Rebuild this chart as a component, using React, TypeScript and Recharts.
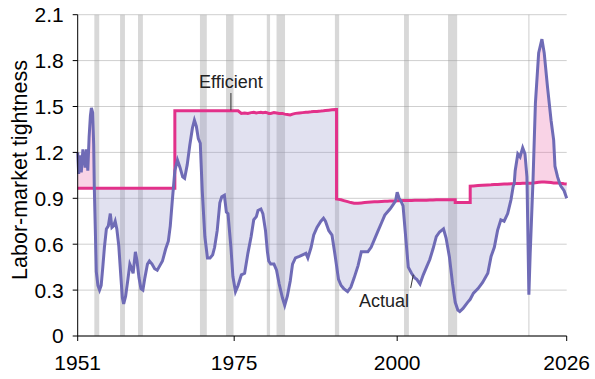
import React from 'react';
import {
  ComposedChart,
  Area,
  Line,
  XAxis,
  YAxis,
  CartesianGrid,
  ReferenceArea,
  ReferenceLine,
  ReferenceDot,
  Label,
} from 'recharts';

// jump years appear twice (step in the efficient line)
const years = [
  1951.0, 1951.15, 1951.35, 1951.55, 1951.8, 1952.0, 1952.15, 1952.35, 1952.55, 1952.75,
  1952.95, 1953.1, 1953.3, 1953.45, 1953.55, 1953.7, 1953.85, 1954.1, 1954.35, 1954.6,
  1954.85, 1955.1, 1955.4, 1955.7, 1956.0, 1956.25, 1956.5, 1956.75, 1957.0, 1957.3,
  1957.6, 1957.85, 1958.05, 1958.35, 1958.7, 1959.0, 1959.2, 1959.5, 1959.85, 1960.1,
  1960.4, 1960.7, 1961.0, 1961.3, 1961.7, 1962.0, 1962.4, 1962.8, 1963.2, 1963.6,
  1964.0, 1964.5, 1964.9, 1965.2, 1965.5, 1965.9, 1965.9, 1966.3, 1966.7, 1967.1,
  1967.4, 1967.8, 1968.2, 1968.6, 1968.9, 1969.2, 1969.5, 1969.8, 1970.1, 1970.5,
  1970.9, 1971.3, 1971.7, 1972.0, 1972.4, 1972.8, 1973.1, 1973.5, 1973.8, 1974.05,
  1974.5, 1974.8, 1975.2, 1975.6, 1976.1, 1976.6, 1977.1, 1977.6, 1978.0, 1978.4,
  1978.65, 1979.1, 1979.4, 1979.8, 1980.1, 1980.3, 1980.6, 1981.1, 1981.5, 1981.9,
  1982.4, 1982.75, 1983.15, 1983.6, 1983.95, 1984.4, 1985.0, 1985.5, 1986.0, 1986.3,
  1986.8, 1987.2, 1987.7, 1988.3, 1988.7, 1989.0, 1989.5, 1990.0, 1990.5, 1990.7,
  1990.7, 1991.0, 1991.4, 1991.8, 1992.4, 1992.9, 1993.4, 1994.0, 1994.5, 1995.0,
  1995.5, 1996.0, 1996.5, 1997.0, 1997.6, 1998.1, 1998.5, 1998.9, 1999.4, 1999.75,
  2000.0, 2000.3, 2000.55, 2000.9, 2001.3, 2001.7, 2002.2, 2002.7, 2003.0, 2003.5,
  2004.0, 2004.5, 2005.0, 2005.5, 2006.0, 2006.5, 2007.1, 2007.5, 2008.0, 2008.5,
  2008.9, 2008.9, 2009.3, 2009.6, 2010.1, 2010.8, 2011.2, 2011.2, 2011.7, 2012.4,
  2013.1, 2013.9, 2014.4, 2014.9, 2015.4, 2015.9, 2016.4, 2016.95, 2017.45, 2017.8,
  2017.95, 2018.1, 2018.5, 2018.85, 2019.25, 2019.6, 2019.9, 2019.92, 2020.2, 2020.4,
  2020.8, 2020.82, 2021.2, 2021.7, 2022.2, 2022.55, 2023.05, 2023.6, 2024.0, 2024.2,
  2024.6, 2024.9, 2025.1, 2025.6, 2026.0,
];

const actual = [
  1.2, 1.06, 1.18, 1.07, 1.22, 1.16, 1.1, 1.22, 1.08, 1.3,
  1.44, 1.49, 1.46, 1.25, 0.965, 0.7, 0.42, 0.33, 0.3, 0.33,
  0.45, 0.58, 0.7, 0.72, 0.8, 0.71, 0.72, 0.75, 0.7, 0.59,
  0.4, 0.25, 0.21, 0.26, 0.37, 0.47, 0.45, 0.41, 0.55, 0.49,
  0.38, 0.31, 0.3, 0.38, 0.47, 0.49, 0.47, 0.44, 0.43, 0.46,
  0.49, 0.57, 0.62, 0.72, 0.88, 1.08, 1.08, 1.15, 1.1, 1.04,
  1.03, 1.12, 1.25, 1.36, 1.41, 1.37, 1.29, 1.26, 0.95, 0.65,
  0.51, 0.51, 0.53, 0.58, 0.69, 0.87, 0.91, 0.92, 0.81, 0.8,
  0.58, 0.39, 0.29, 0.33, 0.4, 0.41, 0.54, 0.65, 0.76, 0.78,
  0.82, 0.83, 0.8, 0.69, 0.55, 0.49, 0.47, 0.47, 0.43, 0.34,
  0.25, 0.2, 0.26, 0.36, 0.47, 0.51, 0.52, 0.53, 0.54, 0.51,
  0.58, 0.66, 0.71, 0.75, 0.77, 0.75, 0.69, 0.66, 0.52, 0.46,
  0.46, 0.37, 0.33, 0.31, 0.29, 0.32, 0.38, 0.46, 0.55, 0.55,
  0.55, 0.58, 0.63, 0.68, 0.74, 0.79, 0.81, 0.83, 0.86, 0.883,
  0.94, 0.9, 0.884, 0.85, 0.65, 0.45, 0.41, 0.38, 0.37, 0.34,
  0.4, 0.45, 0.5, 0.57, 0.65, 0.68, 0.7, 0.64, 0.52, 0.34,
  0.22, 0.22, 0.17, 0.16, 0.18, 0.22, 0.24, 0.24, 0.28, 0.31,
  0.35, 0.41, 0.52, 0.58, 0.69, 0.76, 0.75, 0.8, 0.89, 0.98,
  0.995, 1.08, 1.19, 1.17, 1.23, 1.19, 1.04, 0.998, 0.27, 0.54,
  0.98, 1.0, 1.52, 1.85, 1.94, 1.85, 1.63, 1.41, 1.28, 1.11,
  1.04, 1.0, 0.98, 0.95, 0.9,
];

const efficient = [
  0.965, 0.965, 0.965, 0.965, 0.965, 0.965, 0.965, 0.965, 0.965, 0.965,
  0.965, 0.965, 0.965, 0.965, 0.965, 0.965, 0.965, 0.965, 0.965, 0.965,
  0.965, 0.965, 0.965, 0.965, 0.965, 0.965, 0.965, 0.965, 0.965, 0.965,
  0.965, 0.965, 0.965, 0.965, 0.965, 0.965, 0.965, 0.965, 0.965, 0.965,
  0.965, 0.965, 0.965, 0.965, 0.965, 0.965, 0.965, 0.965, 0.965, 0.965,
  0.965, 0.965, 0.965, 0.965, 0.965, 0.965, 1.472, 1.472, 1.472, 1.472,
  1.472, 1.472, 1.472, 1.472, 1.472, 1.472, 1.472, 1.472, 1.472, 1.472,
  1.472, 1.472, 1.472, 1.472, 1.472, 1.472, 1.472, 1.472, 1.472, 1.472,
  1.472, 1.472, 1.472, 1.472, 1.455, 1.458, 1.455, 1.46, 1.462, 1.458,
  1.46, 1.462, 1.46, 1.462, 1.458, 1.455, 1.455, 1.46, 1.458, 1.455,
  1.455, 1.45, 1.448, 1.445, 1.45, 1.455, 1.458, 1.46, 1.462, 1.463,
  1.465, 1.467, 1.468, 1.47, 1.472, 1.474, 1.476, 1.478, 1.48, 1.48,
  0.895, 0.893, 0.89, 0.885, 0.878, 0.872, 0.868, 0.868, 0.87, 0.872,
  0.874, 0.876, 0.877, 0.878, 0.879, 0.88, 0.881, 0.882, 0.883, 0.883,
  0.884, 0.884, 0.884, 0.885, 0.885, 0.886, 0.886, 0.887, 0.887, 0.887,
  0.888, 0.888, 0.889, 0.889, 0.89, 0.89, 0.89, 0.89, 0.89, 0.89,
  0.89, 0.873, 0.873, 0.873, 0.873, 0.873, 0.873, 0.98, 0.981, 0.983,
  0.985, 0.987, 0.988, 0.99, 0.99, 0.992, 0.993, 0.994, 0.995, 0.995,
  0.995, 0.996, 0.996, 0.997, 0.998, 0.998, 0.998, 0.998, 0.999, 0.999,
  1.0, 1.0, 1.002, 1.005, 1.006, 1.006, 1.005, 1.003, 1.0, 1.0,
  1.0, 1.0, 0.998, 0.995, 0.993,
];

// shaded recessions
const recessionStart = [1953.55, 1957.5, 1960.25, 1969.75, 1973.75, 1980.0, 1981.5, 1990.45, 2001.05, 2007.8, 2020.1];
const recessionEnd = [1954.3, 1958.25, 1961.0, 1970.8, 1974.9, 1980.5, 1982.8, 1991.1, 2001.8, 2009.2, 2020.3];

const xTicks = [1951, 1975, 2000, 2026];
const yTicks = [0, 0.3, 0.6, 0.9, 1.2, 1.5, 1.8, 2.1];

const data = years.map((year, i) => ({ year, actual: actual[i], efficient: efficient[i] }));

const FONT = '"Liberation Sans", Arial, Helvetica, sans-serif';

const YTitle = () => (
  <text
    x={27}
    y={170}
    transform="rotate(-90, 27, 170)"
    textAnchor="middle"
    fontSize={21.5}
    fill="#000"
  >
    Labor-market tightness
  </text>
);

export default function App() {
  return (
    <div style={{ width: 595, height: 379, fontFamily: FONT, background: '#fff' }}>
      <style>{'body{margin:0}'}</style>
      <ComposedChart
        width={595}
        height={379}
        data={data}
        margin={{ top: 14.7, right: 28.3, bottom: 0, left: 0 }}
      >
        <CartesianGrid vertical={false} stroke="#cfcfcf" />
        {recessionStart.map((x1, i) => (
          <ReferenceArea
            key={i}
            x1={x1}
            x2={recessionEnd[i]}
            y1={0}
            y2={2.1}
            fill="#999999"
            fillOpacity={0.38}
            stroke="none"
          />
        ))}
        <Area
          type="linear"
          dataKey={(d: any) => [Math.min(d.actual, d.efficient), d.efficient]}
          stroke="none"
          fill="#9898cb"
          fillOpacity={0.29}
          dot={false}
          activeDot={false}
          isAnimationActive={false}
        />
        <Area
          type="linear"
          dataKey={(d: any) => [d.efficient, Math.max(d.actual, d.efficient)]}
          stroke="none"
          fill="#ea67a9"
          fillOpacity={0.29}
          dot={false}
          activeDot={false}
          isAnimationActive={false}
        />
        <XAxis
          type="number"
          dataKey="year"
          domain={[1951, 2026]}
          ticks={xTicks}
          interval={0}
          height={43}
          tickSize={5}
          tickMargin={14}
          stroke="#000"
          tick={{ fontSize: 21, fill: '#000' }}
        />
        <YAxis
          type="number"
          domain={[0, 2.1]}
          ticks={yTicks}
          interval={0}
          width={77.7}
          tickSize={5}
          tickMargin={9}
          stroke="#000"
          tick={{ fontSize: 21, fill: '#000' }}
          tickFormatter={(v: number) => (v === 0 ? '0' : v.toFixed(1))}
        >
          <Label content={<YTitle />} />
        </YAxis>
        <Line
          type="linear"
          dataKey="efficient"
          stroke="#e2318a"
          strokeWidth={3}
          dot={false}
          activeDot={false}
          isAnimationActive={false}
        />
        <Line
          type="linear"
          dataKey="actual"
          stroke="#6f6bb6"
          strokeWidth={3}
          dot={false}
          activeDot={false}
          isAnimationActive={false}
        />
        <ReferenceLine
          segment={[
            { x: 1974.5, y: 1.588 },
            { x: 1974.5, y: 1.475 },
          ]}
          stroke="#333"
          strokeWidth={1}
        />
        <ReferenceDot
          x={1974.5}
          y={1.588}
          r={0}
          fill="none"
          stroke="none"
          label={{ value: 'Efficient', position: 'top', offset: 5, fontSize: 18, fill: '#222' }}
        />
        <ReferenceLine
          segment={[
            { x: 2002.07, y: 0.314 },
            { x: 2002.47, y: 0.4 },
          ]}
          stroke="#333"
          strokeWidth={1}
        />
        <ReferenceDot
          x={1997.98}
          y={0.233}
          r={0}
          fill="none"
          stroke="none"
          label={{ value: 'Actual', position: 'center', fontSize: 18, fill: '#222' }}
        />
      </ComposedChart>
    </div>
  );
}
